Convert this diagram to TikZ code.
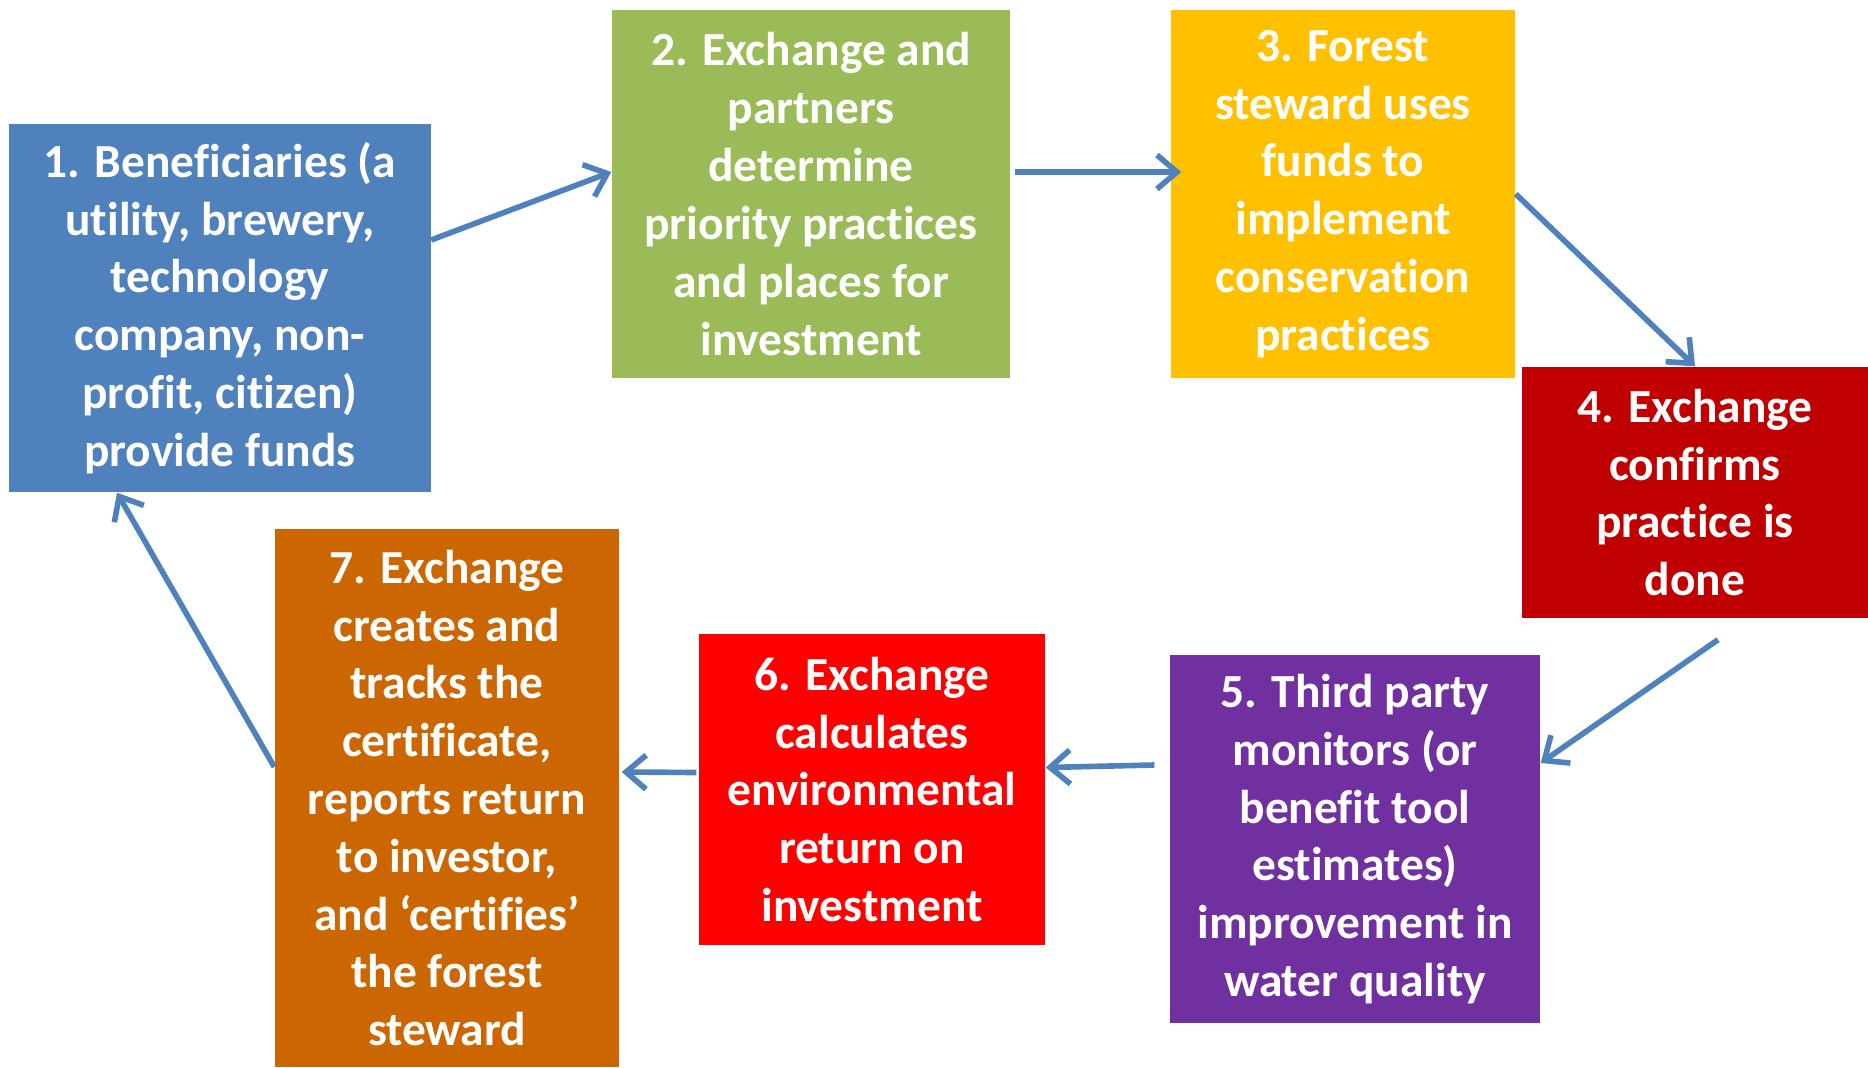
\documentclass[tikz,border=0pt]{standalone}
\usepackage{fontspec}
\setmainfont{Carlito}[Ligatures={TeX,NoCommon}]
\usepackage{tikz}
\usetikzlibrary{arrows.meta,positioning}
\definecolor{colorben}{HTML}{4F81BD}
\definecolor{colorexc}{HTML}{9BBB59}
\definecolor{colorfor}{HTML}{FFC000}
\definecolor{colorcon}{HTML}{C00000}
\definecolor{colormon}{HTML}{7030A0}
\definecolor{colorcal}{HTML}{FF0000}
\definecolor{colorcer}{HTML}{CC6600}
\definecolor{colorflow}{HTML}{4F81BD}
\tikzset{stage/.style={draw=none, text=white, align=center, inner sep=0pt,
  font=\fontsize{13.5}{16.45}\selectfont\bfseries}}
\tikzset{
  edgeflow/.style={colorflow, line width=1.6pt,
    -{Straight Barb[length=2mm,width=3.4mm]}}
}

\begin{document}
\begin{tikzpicture}
\useasboundingbox (0,0) rectangle (18.68,10.67);

\node[stage, fill=colorben, minimum width=4.21cm, minimum height=3.68cm](a) at (2.20,7.59)
{1. Beneficiaries (a\\utility, brewery,\\technology\\company, non-\\profit, citizen)\\provide funds};

\node[stage, fill=colorexc, minimum width=3.98cm, minimum height=3.68cm](b) at (8.11,8.73)
{2. Exchange and\\partners\\determine\\priority practices\\and places for\\investment};

\node[stage, fill=colorfor, minimum width=3.44cm, minimum height=3.68cm](c) at (13.43,8.73)
{3. Forest\\steward uses\\funds to\\implement\\conservation\\practices};

\node[stage, fill=colorcon, minimum width=3.46cm, minimum height=2.51cm](d) at (16.95,5.745)
{4. Exchange\\confirms\\practice is\\done};

\node[stage, fill=colormon, minimum width=3.70cm, minimum height=3.68cm](e) at (13.55,2.28)
{5. Third party\\monitors (or\\benefit tool\\estimates)\\improvement in\\water quality};

\node[stage, fill=colorcal, minimum width=3.46cm, minimum height=3.11cm](f) at (8.72,2.775)
{6. Exchange\\calculates\\environmental\\return on\\investment};

\node[stage, fill=colorcer, minimum width=3.44cm, minimum height=5.38cm](g) at (4.47,2.69)
{7. Exchange\\creates and\\tracks the\\certificate,\\reports return\\to investor,\\and ‘certifies’\\the forest\\steward};

\draw[edgeflow] ([yshift=6.8mm]a.east) -- ([yshift=2.2mm]b.west);

\draw[edgeflow] ([xshift=0.4mm, yshift=2.2mm]b.east) -- ([xshift=1.1mm, yshift=2.2mm]c.west);

\draw[edgeflow] (c.east) -- (d.north);

\draw[edgeflow] ([xshift=2.3mm, yshift=-2.1mm]d.south) -- ([yshift=7.6mm]e.east);

\draw[edgeflow] ([xshift=-1.5mm, yshift=7.4mm]e.west) -- ([yshift=2.2mm]f.east);

\draw[edgeflow] ([xshift=-0.2mm, yshift=1.7mm]f.west) -- ([xshift=0.2mm, yshift=2.6mm]g.east);

\draw[edgeflow] ([yshift=3.1mm]g.west) -- ([xshift=-10.3mm]a.south);
\end{tikzpicture}
\end{document}
